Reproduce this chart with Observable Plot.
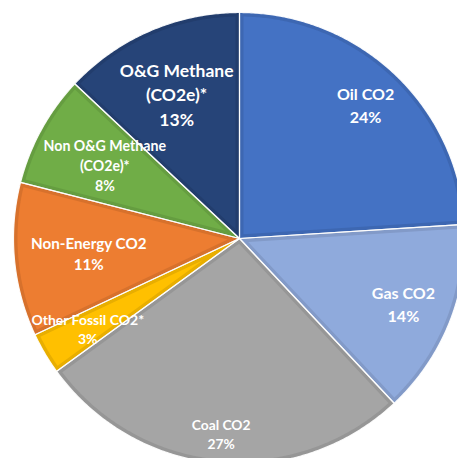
<!DOCTYPE html>
<html><head><meta charset="utf-8">
<script src="https://cdn.jsdelivr.net/npm/d3@7"></script>
<script src="https://cdn.jsdelivr.net/npm/@observablehq/plot@0.6"></script>
<style>body{margin:0;background:#fff}</style>
</head><body><div id="chart"></div>
<script>
// ---- data ----
const categories = ["Oil CO2","Gas CO2","Coal CO2","Other Fossil CO2*","Non-Energy CO2","Non O&G Methane (CO2e)*","O&G Methane (CO2e)*"];
const shares = [24, 14, 27, 3, 11, 8, 13];
const labelNames = ["Oil CO2","Gas CO2","Coal CO2","Other Fossil CO2*","Non-Energy CO2","Non O&G Methane\n(CO2e)*","O&G Methane\n(CO2e)*"];
const colors = ["#4472C4","#8FAADC","#A5A5A5","#FFC000","#ED7D31","#70AD47","#264478"];

// ---- layout ----
const W = 457, H = 458, CX = 239, CY = 238, R = 226;
const labelRadius = [0.815, 0.78, 0.865, 0.78, 0.67, 0.68, 0.70];
const labelSize = [16, 16, 13.8, 14, 15.2, 14.2, 17.5];
const lineHeights = 1.4;
const inset = 4 / R;

const total = d3.sum(shares);
const starts = [];
let acc = 0;
for (const s of shares) { starts.push(acc / total * 2 * Math.PI); acc += s; }

const pt = (r, a) => ({x: r * Math.sin(a), y: r * Math.cos(a)});

const outer = [], inner = [];
categories.forEach((key, i) => {
  const a0 = starts[i], a1 = a0 + shares[i] / total * 2 * Math.PI;
  outer.push({key, ...pt(0, 0)});
  const n = Math.max(4, Math.ceil((a1 - a0) / (Math.PI / 360)));
  for (let k = 0; k <= n; k++) outer.push({key, ...pt(1, a0 + (a1 - a0) * k / n)});
  const half = (a1 - a0) / 2, Ri = 1 - inset, del = Math.asin(inset / Ri);
  inner.push({key, ...pt(inset / Math.sin(half), a0 + half)});
  const b0 = a0 + del, b1 = a1 - del;
  for (let k = 0; k <= n; k++) inner.push({key, ...pt(Ri, b0 + (b1 - b0) * k / n)});
});

const labels = categories.map((key, i) => {
  const mid = starts[i] + shares[i] / total * Math.PI;
  return {key, text: labelNames[i] + "\n" + shares[i] + "%", size: labelSize[i], ...pt(labelRadius[i], mid)};
});

const chart = Plot.plot({
  width: W, height: H, margin: 0,
  x: {domain: [-CX / R, (W - CX) / R], axis: null},
  y: {domain: [-(H - CY) / R, CY / R], axis: null},
  color: {domain: categories, range: colors},
  style: {fontFamily: "Lato, sans-serif", background: "white"},
  marks: [
    Plot.line(outer, {x: "x", y: "y", z: "key", fill: "key", stroke: "none", curve: "linear-closed"}),
    Plot.line(outer, {x: "x", y: "y", z: "key", fill: "black", fillOpacity: 0.09, stroke: "white", strokeWidth: 1.2, strokeOpacity: 0.9, curve: "linear-closed"}),
    Plot.line(inner, {x: "x", y: "y", z: "key", fill: "key", stroke: "none", curve: "linear-closed"}),
    Plot.text(labels, {x: "x", y: "y", text: "text", fill: "white", fontSize: d => d.size, fontWeight: "bold", lineHeight: lineHeights})
  ]
});
document.getElementById("chart").append(chart);
</script>
</body></html>
